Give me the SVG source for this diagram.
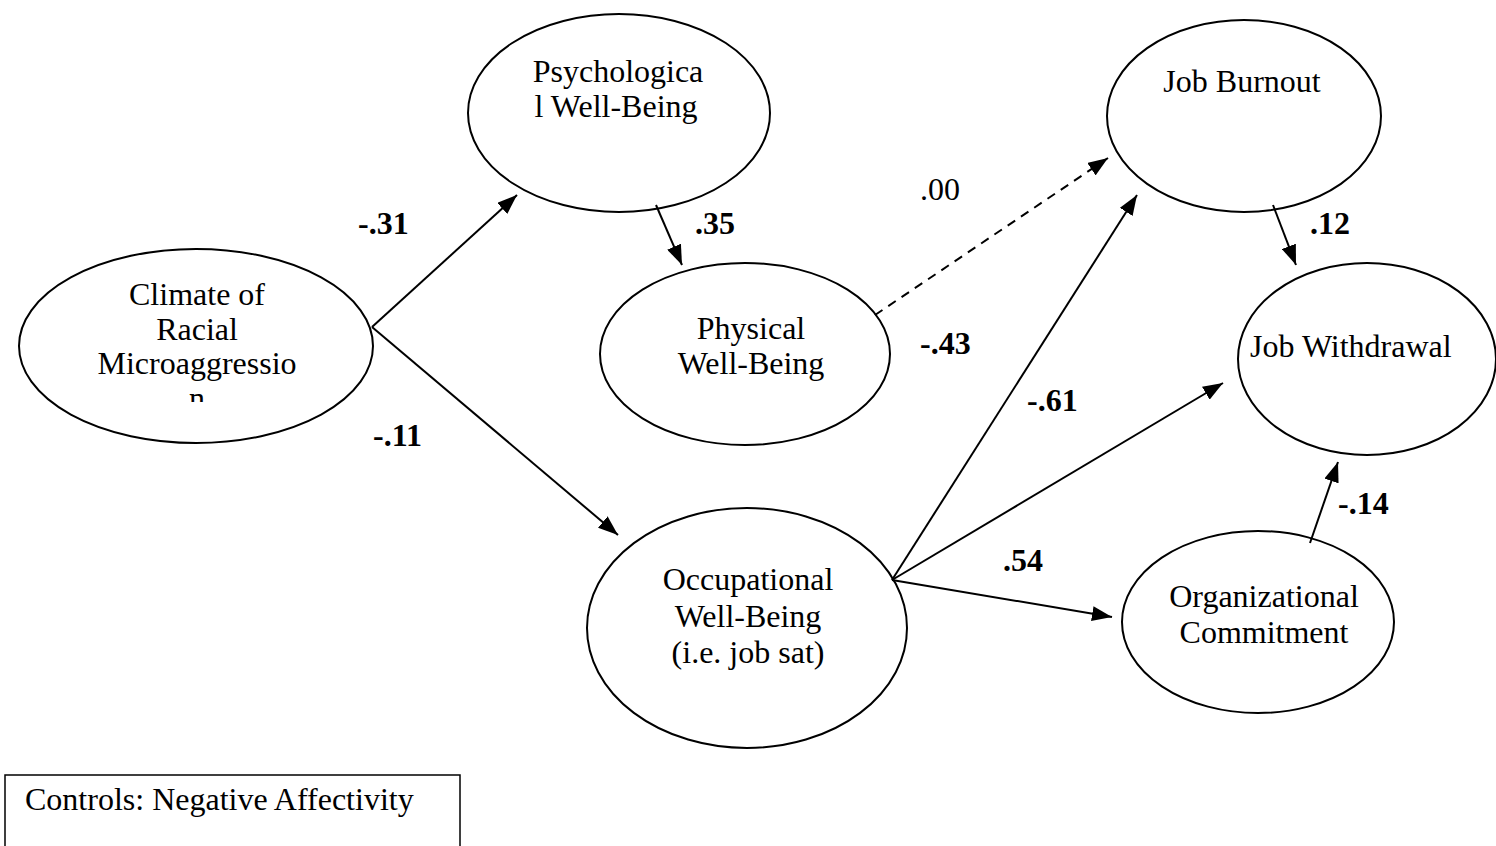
<svg xmlns="http://www.w3.org/2000/svg" width="1496" height="846" viewBox="0 0 1496 846">
<style>
.node{fill:#fff;stroke:#000;stroke-width:2}
.t{font-family:"Liberation Serif","Times New Roman",serif;font-size:32px;fill:#000}
.c{text-anchor:middle}
.lb{font-family:"Liberation Serif","Times New Roman",serif;font-size:32px;font-weight:bold;fill:#000}
.lr{font-family:"Liberation Serif","Times New Roman",serif;font-size:32px;fill:#000}
.e{stroke:#000;stroke-width:2;fill:none;marker-end:url(#ah)}
.d{stroke-dasharray:9,7}
</style>
<defs>
<marker id="ah" markerWidth="20" markerHeight="15" refX="20" refY="7.5" orient="auto" markerUnits="userSpaceOnUse" viewBox="0 0 20 15">
<path d="M0,0 L20,7.5 L0,15 Z" fill="#000"/>
</marker>
<clipPath id="clipC"><rect x="0" y="250" width="380" height="152"/></clipPath>
</defs>
<rect width="1496" height="846" fill="#fff"/>
<g id="climate">
<ellipse class="node" cx="196" cy="346" rx="177" ry="97"/>
<g clip-path="url(#clipC)">
<text class="t c" x="197" y="305">Climate of</text>
<text class="t c" x="197" y="340">Racial</text>
<text class="t c" x="197" y="374">Microaggressio</text>
<text class="t c" x="197" y="409">n</text>
</g>
</g>
<g id="psych">
<ellipse class="node" cx="619" cy="113" rx="151" ry="99"/>
<text class="t c" x="618" y="82">Psychologica</text>
<text class="t c" x="616" y="117">l Well-Being</text>
</g>
<g id="physical">
<ellipse class="node" cx="745" cy="354" rx="145" ry="91"/>
<text class="t c" x="751" y="339">Physical</text>
<text class="t c" x="751" y="374">Well-Being</text>
</g>
<g id="occupational">
<ellipse class="node" cx="747" cy="628" rx="160" ry="120"/>
<text class="t c" x="748" y="590">Occupational</text>
<text class="t c" x="748" y="627">Well-Being</text>
<text class="t c" x="748" y="663">(i.e. job sat)</text>
</g>
<g id="burnout">
<ellipse class="node" cx="1244" cy="116" rx="137" ry="96"/>
<text class="t c" x="1242" y="92">Job Burnout</text>
</g>
<g id="withdrawal">
<ellipse class="node" cx="1367" cy="359" rx="129" ry="96"/>
<text class="t" x="1250" y="357">Job Withdrawal</text>
</g>
<g id="commitment">
<ellipse class="node" cx="1258" cy="622" rx="136" ry="91"/>
<text class="t c" x="1264" y="607">Organizational</text>
<text class="t c" x="1264" y="643">Commitment</text>
</g>
<g id="controls">
<rect x="5" y="775" width="455" height="90" fill="#fff" stroke="#000" stroke-width="1.5"/>
<text class="t" x="25" y="810">Controls: Negative Affectivity</text>
</g>
<g id="connectors">
<line class="e" x1="372" y1="327" x2="517" y2="195"/>
<line class="e" x1="372" y1="327" x2="618" y2="535"/>
<line class="e" x1="656" y1="205" x2="682" y2="265"/>
<line class="e d" x1="875" y1="315" x2="1108" y2="158"/>
<line class="e" x1="892" y1="580" x2="1137" y2="195"/>
<line class="e" x1="892" y1="580" x2="1223" y2="383"/>
<line class="e" x1="892" y1="580" x2="1112" y2="617"/>
<line class="e" x1="1273" y1="205" x2="1296" y2="265"/>
<line class="e" x1="1310" y1="543" x2="1338" y2="462"/>
</g>
<g id="labels">
<text class="lb" x="358" y="234">-.31</text>
<text class="lb" x="373" y="446">-.11</text>
<text class="lb" x="695" y="234">.35</text>
<text class="lr" x="920" y="200">.00</text>
<text class="lb" x="920" y="354">-.43</text>
<text class="lb" x="1027" y="411">-.61</text>
<text class="lb" x="1003" y="571">.54</text>
<text class="lb" x="1310" y="234">.12</text>
<text class="lb" x="1338" y="514">-.14</text>
</g>
</svg>
